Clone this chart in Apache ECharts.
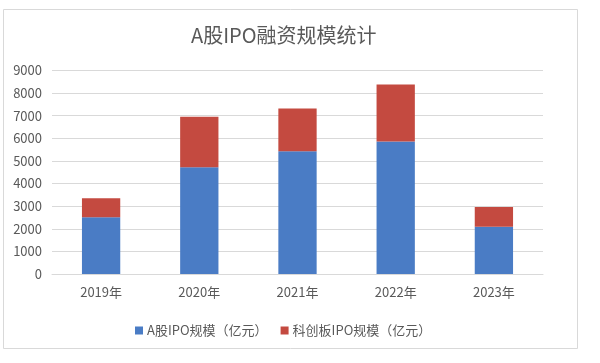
<!DOCTYPE html>
<html>
<head>
<meta charset="utf-8">
<script src="https://cdn.jsdelivr.net/npm/echarts@6/dist/echarts.min.js"></script>
<style>html,body{margin:0;padding:0;background:#fff}#c{width:600px;height:363px}</style>
</head>
<body>
<div id="c"></div>
<script>
var categories = ['2019年', '2020年', '2021年', '2022年', '2023年'];
var aShareIPO = [2510, 4720, 5430, 5855, 2093];
var starIPO = [840, 2240, 1885, 2522, 872];
var yTicks = [0, 1000, 2000, 3000, 4000, 5000, 6000, 7000, 8000, 9000];
var seriesNames = ['A股IPO规模（亿元）', '科创板IPO规模（亿元）'];

var font = '"Noto Sans CJK SC", "Noto Sans", sans-serif';
var chart = echarts.init(document.getElementById('c'));
chart.setOption({
  animation: false,
  backgroundColor: '#fff',
  graphic: [{
    type: 'rect',
    shape: { x: 3.5, y: 9.5, width: 574, height: 339 },
    style: { fill: 'none', stroke: '#d9d9d9', lineWidth: 1 },
    z: -1
  }],
  title: {
    text: 'A股IPO融资规模统计',
    left: 186, top: 20,
    textStyle: { fontFamily: font, fontSize: 20, fontWeight: 'normal', color: '#595959' }
  },
  legend: {
    data: seriesNames,
    left: 130, top: 319,
    itemWidth: 8, itemHeight: 8, itemGap: 13,
    icon: 'rect',
    textStyle: { fontFamily: font, fontSize: 13, color: '#595959', padding: [0, 0, 0, -1] }
  },
  grid: { left: 52, right: 57, top: 70.5, bottom: 89 },
  xAxis: {
    type: 'category',
    data: categories,
    axisTick: { show: false },
    axisLine: { lineStyle: { color: '#d9d9d9' } },
    axisLabel: { fontFamily: font, fontSize: 13, color: '#595959', margin: 12 }
  },
  yAxis: {
    type: 'value',
    min: yTicks[0], max: yTicks[yTicks.length - 1], interval: 1000,
    axisLine: { show: false },
    axisTick: { show: false },
    splitLine: { lineStyle: { color: '#d9d9d9' } },
    axisLabel: { fontFamily: font, fontSize: 13, color: '#595959', margin: 10,
      formatter: function (v) { return String(v); } }
  },
  series: [{
    name: seriesNames[0], type: 'bar', stack: 'total', data: aShareIPO,
    barWidth: '39%', itemStyle: { color: '#4a7cc5' }
  }, {
    name: seriesNames[1], type: 'bar', stack: 'total', data: starIPO,
    barWidth: '39%', itemStyle: { color: '#c44a40' }
  }]
});
</script>
</body>
</html>
